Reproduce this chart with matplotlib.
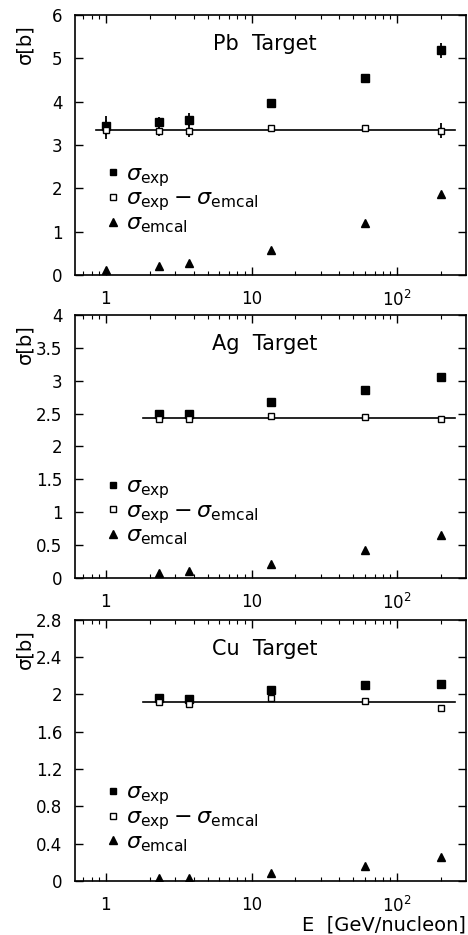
# Cross sections vs energy for Pb, Ag, Cu targets

import numpy as np
import matplotlib.pyplot as plt
from matplotlib.lines import Line2D
from matplotlib.ticker import FixedLocator, FixedFormatter, LogLocator, NullFormatter

# data
E_pb = [1.0, 2.3, 3.7, 13.7, 60, 200]
pb_exp = [3.44, 3.52, 3.58, 3.96, 4.55, 5.18]
pb_exp_err = [0.22, 0.12, 0.15, 0.05, 0.06, 0.17]
pb_diff = [3.35, 3.33, 3.32, 3.40, 3.38, 3.33]
pb_diff_err = [0.22, 0.12, 0.14, 0.05, 0.06, 0.17]
pb_emcal = [0.12, 0.21, 0.28, 0.58, 1.20, 1.87]
pb_fit = 3.35
pb_fit_range = [0.86, 250]

E_ag = [2.3, 3.7, 13.7, 60, 200]
ag_exp = [2.50, 2.50, 2.68, 2.86, 3.05]
ag_exp_err = [0.05, 0.05, 0.04, 0.03, 0.03]
ag_diff = [2.42, 2.42, 2.47, 2.45, 2.42]
ag_diff_err = [0.05, 0.05, 0.04, 0.03, 0.03]
ag_emcal = [0.07, 0.10, 0.21, 0.42, 0.65]
ag_fit = 2.44
ag_fit_range = [1.8, 250]

E_cu = [2.3, 3.7, 13.7, 60, 200]
cu_exp = [1.96, 1.95, 2.05, 2.10, 2.11]
cu_exp_err = [0.04, 0.03, 0.03, 0.02, 0.02]
cu_diff = [1.92, 1.90, 1.96, 1.93, 1.85]
cu_diff_err = [0.04, 0.03, 0.03, 0.02, 0.02]
cu_emcal = [0.03, 0.03, 0.08, 0.16, 0.25]
cu_fit = 1.917
cu_fit_range = [1.8, 250]

panels = [
    ("Pb  Target", E_pb, pb_exp, pb_exp_err, pb_diff, pb_diff_err, pb_emcal, pb_fit, pb_fit_range,
     (0, 6), [0, 1, 2, 3, 4, 5, 6], ["0", "1", "2", "3", "4", "5", "6"]),
    ("Ag  Target", E_ag, ag_exp, ag_exp_err, ag_diff, ag_diff_err, ag_emcal, ag_fit, ag_fit_range,
     (0, 4), [0, 0.5, 1, 1.5, 2, 2.5, 3, 3.5, 4], ["0", "0.5", "1", "1.5", "2", "2.5", "3", "3.5", "4"]),
    ("Cu  Target", E_cu, cu_exp, cu_exp_err, cu_diff, cu_diff_err, cu_emcal, cu_fit, cu_fit_range,
     (0, 2.8), [0, 0.4, 0.8, 1.2, 1.6, 2, 2.4, 2.8], ["0", "0.4", "0.8", "1.2", "1.6", "2", "2.4", "2.8"]),
]

plt.rcParams['font.family'] = ['DejaVu Sans']

fig = plt.figure(figsize=(4.68, 9.35), dpi=100)
boxes = [[0.160, 0.706, 0.836, 0.278],
         [0.160, 0.382, 0.836, 0.281],
         [0.160, 0.058, 0.836, 0.279]]
legend_y = [0.46, 0.42, 0.41]

for i, (title, E, exp, exp_err, diff, diff_err, emcal, fit, fit_range, ylim, yt, ytl) in enumerate(panels):
    ax = fig.add_axes(boxes[i])
    ax.set_xscale('log')
    ax.set_xlim(0.612, 298)
    ax.set_ylim(*ylim)

    ax.plot(fit_range, [fit, fit], color='black', lw=1.2, zorder=1)
    ax.errorbar(E, exp, yerr=exp_err, fmt='s', color='black', ms=5.5, elinewidth=1.3,
                capsize=0, zorder=3)
    ax.errorbar(E, diff, yerr=diff_err, fmt='s', color='black', mfc='white', ms=5, mew=1.0,
                elinewidth=1.3, capsize=0, zorder=4)
    ax.plot(E, emcal, '^', color='black', ms=6, zorder=3)

    handles = [Line2D([], [], ls='none', marker='s', color='black', ms=5),
               Line2D([], [], ls='none', marker='s', color='black', mfc='white', ms=5, mew=1.0),
               Line2D([], [], ls='none', marker='^', color='black', ms=5.5)]
    labels = [r'$\sigma_{\rm exp}$', r'$\sigma_{\rm exp}-\sigma_{\rm emcal}$', r'$\sigma_{\rm emcal}$']
    ax.legend(handles, labels, loc='upper left', bbox_to_anchor=(0.06, legend_y[i]),
              frameon=False, fontsize=16, handlelength=0.5, handletextpad=0.35,
              labelspacing=0.0, borderaxespad=0)

    ax.text(0.485, 0.89, title, transform=ax.transAxes, ha='center', va='center', fontsize=15)
    ax.text(-0.128, 0.965, 'σ[b]', transform=ax.transAxes, rotation=90, ha='center', va='top',
            fontsize=14)

    ax.xaxis.set_major_locator(FixedLocator([1, 10, 100]))
    ax.xaxis.set_major_formatter(FixedFormatter(['1', '10', r'$10^2$']))
    ax.xaxis.set_minor_locator(LogLocator(base=10, subs=np.arange(2, 10), numticks=20))
    ax.xaxis.set_minor_formatter(NullFormatter())
    ax.set_yticks(yt)
    ax.set_yticklabels(ytl)
    ax.tick_params(which='both', direction='in', top=True, right=True, labelsize=12)
    ax.tick_params(which='major', length=6, width=1)
    ax.tick_params(which='minor', length=3, width=0.8)
    ax.tick_params(axis='x', which='major', pad=11)
    ax.tick_params(axis='y', which='major', pad=9)
    for s in ax.spines.values():
        s.set_linewidth(1.2)

    if i == 2:
        ax.text(1.0, -0.205, 'E  [GeV/nucleon]', transform=ax.transAxes, ha='right',
                va='bottom', fontsize=14)

fig.savefig('out.png', dpi=100)
